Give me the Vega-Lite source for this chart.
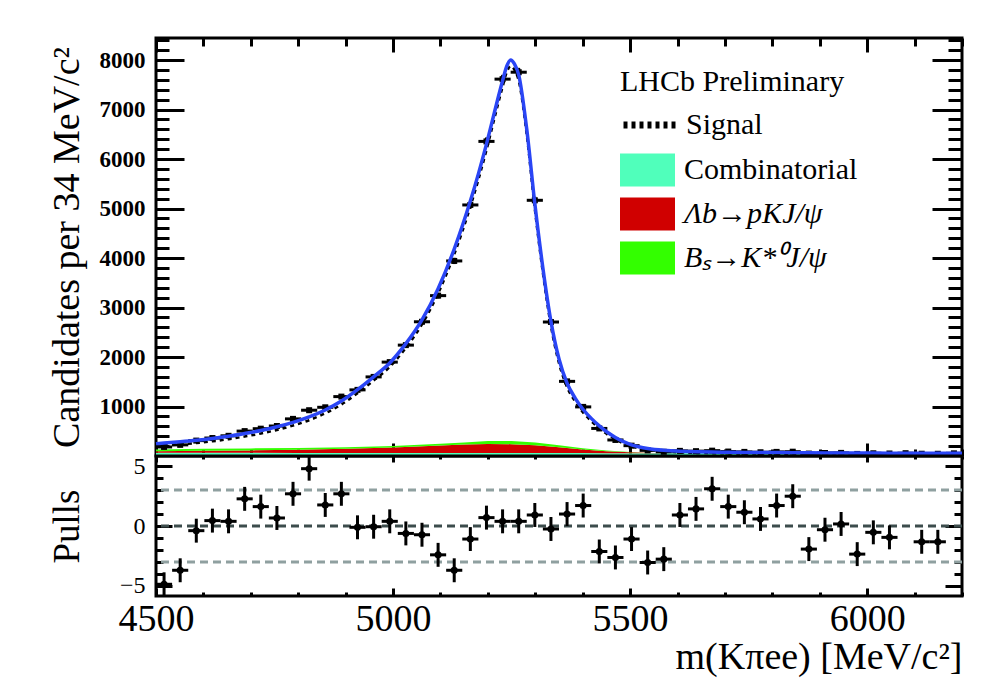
{
  "$schema": "https://vega.github.io/schema/vega-lite/v6.json",
  "background": "white",
  "padding": {"left": 46, "top": 35, "right": 30, "bottom": 10},
  "spacing": 0,
  "bounds": "flush",
  "config": {
    "view": {"stroke": "black", "strokeWidth": 3},
    "font": "Liberation Serif",
    "legend": {"symbolStrokeWidth": 7},
    "axis": {
      "domain": false,
      "grid": false,
      "labelFont": "Liberation Serif",
      "titleFont": "Liberation Serif",
      "titleFontWeight": "normal",
      "labelColor": "black",
      "titleColor": "black",
      "tickColor": "black",
      "tickWidth": 3,
      "labelFlush": false,
      "labelOverlap": false,
      "format": "d"
    }
  },
  "datasets": {
    "hist": [
      {"m": 4517, "lo": 4500, "hi": 4534, "n": 183, "nlo": 169.5, "nhi": 196.5},
      {"m": 4551, "lo": 4534, "hi": 4568, "n": 225, "nlo": 210, "nhi": 240},
      {"m": 4585, "lo": 4568, "hi": 4602, "n": 311, "nlo": 293, "nhi": 329},
      {"m": 4619, "lo": 4602, "hi": 4636, "n": 363, "nlo": 344, "nhi": 382},
      {"m": 4653, "lo": 4636, "hi": 4670, "n": 408, "nlo": 388, "nhi": 428},
      {"m": 4687, "lo": 4670, "hi": 4704, "n": 503, "nlo": 481, "nhi": 525},
      {"m": 4721, "lo": 4704, "hi": 4738, "n": 552, "nlo": 528, "nhi": 576},
      {"m": 4755, "lo": 4738, "hi": 4772, "n": 606, "nlo": 581, "nhi": 631},
      {"m": 4789, "lo": 4772, "hi": 4806, "n": 750, "nlo": 723, "nhi": 777},
      {"m": 4823, "lo": 4806, "hi": 4840, "n": 925, "nlo": 895, "nhi": 955},
      {"m": 4857, "lo": 4840, "hi": 4874, "n": 984, "nlo": 953, "nhi": 1015},
      {"m": 4891, "lo": 4874, "hi": 4908, "n": 1200, "nlo": 1165, "nhi": 1235},
      {"m": 4925, "lo": 4908, "hi": 4942, "n": 1336, "nlo": 1299, "nhi": 1373},
      {"m": 4959, "lo": 4942, "hi": 4976, "n": 1598, "nlo": 1558, "nhi": 1638},
      {"m": 4993, "lo": 4976, "hi": 5010, "n": 1897, "nlo": 1853, "nhi": 1941},
      {"m": 5027, "lo": 5010, "hi": 5044, "n": 2240, "nlo": 2193, "nhi": 2287},
      {"m": 5061, "lo": 5044, "hi": 5078, "n": 2712, "nlo": 2660, "nhi": 2764},
      {"m": 5095, "lo": 5078, "hi": 5112, "n": 3240, "nlo": 3183, "nhi": 3297},
      {"m": 5129, "lo": 5112, "hi": 5146, "n": 3941, "nlo": 3878, "nhi": 4004},
      {"m": 5163, "lo": 5146, "hi": 5180, "n": 5072, "nlo": 5001, "nhi": 5143},
      {"m": 5197, "lo": 5180, "hi": 5214, "n": 6356, "nlo": 6276, "nhi": 6436},
      {"m": 5231, "lo": 5214, "hi": 5248, "n": 7614, "nlo": 7527, "nhi": 7701},
      {"m": 5265, "lo": 5248, "hi": 5282, "n": 7754, "nlo": 7666, "nhi": 7842},
      {"m": 5299, "lo": 5282, "hi": 5316, "n": 5166, "nlo": 5094, "nhi": 5238},
      {"m": 5333, "lo": 5316, "hi": 5350, "n": 2707, "nlo": 2655, "nhi": 2759},
      {"m": 5367, "lo": 5350, "hi": 5384, "n": 1508, "nlo": 1469, "nhi": 1547},
      {"m": 5401, "lo": 5384, "hi": 5418, "n": 992, "nlo": 960, "nhi": 1024},
      {"m": 5435, "lo": 5418, "hi": 5452, "n": 557, "nlo": 533, "nhi": 581},
      {"m": 5469, "lo": 5452, "hi": 5486, "n": 324, "nlo": 306, "nhi": 342},
      {"m": 5503, "lo": 5486, "hi": 5520, "n": 209, "nlo": 194.5, "nhi": 223.5},
      {"m": 5537, "lo": 5520, "hi": 5554, "n": 114, "nlo": 103, "nhi": 125},
      {"m": 5571, "lo": 5554, "hi": 5588, "n": 85, "nlo": 76, "nhi": 94},
      {"m": 5605, "lo": 5588, "hi": 5622, "n": 104, "nlo": 94, "nhi": 114},
      {"m": 5639, "lo": 5622, "hi": 5656, "n": 98, "nlo": 88, "nhi": 108},
      {"m": 5673, "lo": 5656, "hi": 5690, "n": 108, "nlo": 98, "nhi": 118},
      {"m": 5707, "lo": 5690, "hi": 5724, "n": 90, "nlo": 80.5, "nhi": 99.5},
      {"m": 5741, "lo": 5724, "hi": 5758, "n": 83, "nlo": 74, "nhi": 92},
      {"m": 5775, "lo": 5758, "hi": 5792, "n": 76, "nlo": 67, "nhi": 85},
      {"m": 5809, "lo": 5792, "hi": 5826, "n": 83, "nlo": 74, "nhi": 92},
      {"m": 5843, "lo": 5826, "hi": 5860, "n": 87, "nlo": 78, "nhi": 96},
      {"m": 5877, "lo": 5860, "hi": 5894, "n": 49, "nlo": 42, "nhi": 56},
      {"m": 5911, "lo": 5894, "hi": 5928, "n": 61, "nlo": 53, "nhi": 69},
      {"m": 5945, "lo": 5928, "hi": 5962, "n": 63, "nlo": 55, "nhi": 71},
      {"m": 5979, "lo": 5962, "hi": 5996, "n": 42, "nlo": 35.5, "nhi": 48.5},
      {"m": 6013, "lo": 5996, "hi": 6030, "n": 55, "nlo": 47.6, "nhi": 62.4},
      {"m": 6047, "lo": 6030, "hi": 6064, "n": 51, "nlo": 44, "nhi": 58},
      {"m": 6081, "lo": 6064, "hi": 6098, "n": 57, "nlo": 49.5, "nhi": 64.5},
      {"m": 6115, "lo": 6098, "hi": 6132, "n": 46, "nlo": 39, "nhi": 53},
      {"m": 6149, "lo": 6132, "hi": 6166, "n": 45, "nlo": 38, "nhi": 52},
      {"m": 6183, "lo": 6166, "hi": 6200, "n": 54, "nlo": 47, "nhi": 61}
    ],
    "pulls": [
      {"m": 4517, "lo": 4500, "hi": 4534, "pull": -4.87, "plo": -5.87, "phi": -3.87},
      {"m": 4551, "lo": 4534, "hi": 4568, "pull": -3.7, "plo": -4.7, "phi": -2.7},
      {"m": 4585, "lo": 4568, "hi": 4602, "pull": -0.39, "plo": -1.39, "phi": 0.61},
      {"m": 4619, "lo": 4602, "hi": 4636, "pull": 0.45, "plo": -0.55, "phi": 1.45},
      {"m": 4653, "lo": 4636, "hi": 4670, "pull": 0.39, "plo": -0.61, "phi": 1.39},
      {"m": 4687, "lo": 4670, "hi": 4704, "pull": 2.27, "plo": 1.27, "phi": 3.27},
      {"m": 4721, "lo": 4704, "hi": 4738, "pull": 1.62, "plo": 0.62, "phi": 2.62},
      {"m": 4755, "lo": 4738, "hi": 4772, "pull": 0.67, "plo": -0.33, "phi": 1.67},
      {"m": 4789, "lo": 4772, "hi": 4806, "pull": 2.69, "plo": 1.69, "phi": 3.69},
      {"m": 4823, "lo": 4806, "hi": 4840, "pull": 4.79, "plo": 3.79, "phi": 5.79},
      {"m": 4857, "lo": 4840, "hi": 4874, "pull": 1.76, "plo": 0.76, "phi": 2.76},
      {"m": 4891, "lo": 4874, "hi": 4908, "pull": 2.69, "plo": 1.69, "phi": 3.69},
      {"m": 4925, "lo": 4908, "hi": 4942, "pull": -0.11, "plo": -1.11, "phi": 0.89},
      {"m": 4959, "lo": 4942, "hi": 4976, "pull": -0.06, "plo": -1.06, "phi": 0.94},
      {"m": 4993, "lo": 4976, "hi": 5010, "pull": 0.39, "plo": -0.61, "phi": 1.39},
      {"m": 5027, "lo": 5010, "hi": 5044, "pull": -0.62, "plo": -1.62, "phi": 0.38},
      {"m": 5061, "lo": 5044, "hi": 5078, "pull": -0.73, "plo": -1.73, "phi": 0.27},
      {"m": 5095, "lo": 5078, "hi": 5112, "pull": -2.41, "plo": -3.41, "phi": -1.41},
      {"m": 5129, "lo": 5112, "hi": 5146, "pull": -3.7, "plo": -4.7, "phi": -2.7},
      {"m": 5163, "lo": 5146, "hi": 5180, "pull": -1.09, "plo": -2.09, "phi": -0.09},
      {"m": 5197, "lo": 5180, "hi": 5214, "pull": 0.7, "plo": -0.3, "phi": 1.7},
      {"m": 5231, "lo": 5214, "hi": 5248, "pull": 0.39, "plo": -0.61, "phi": 1.39},
      {"m": 5265, "lo": 5248, "hi": 5282, "pull": 0.39, "plo": -0.61, "phi": 1.39},
      {"m": 5299, "lo": 5282, "hi": 5316, "pull": 0.92, "plo": -0.08, "phi": 1.92},
      {"m": 5333, "lo": 5316, "hi": 5350, "pull": -0.25, "plo": -1.25, "phi": 0.75},
      {"m": 5367, "lo": 5350, "hi": 5384, "pull": 1.0, "plo": 0.0, "phi": 2.0},
      {"m": 5401, "lo": 5384, "hi": 5418, "pull": 1.71, "plo": 0.71, "phi": 2.71},
      {"m": 5435, "lo": 5418, "hi": 5452, "pull": -2.13, "plo": -3.13, "phi": -1.13},
      {"m": 5469, "lo": 5452, "hi": 5486, "pull": -2.63, "plo": -3.63, "phi": -1.63},
      {"m": 5503, "lo": 5486, "hi": 5520, "pull": -1.09, "plo": -2.09, "phi": -0.09},
      {"m": 5537, "lo": 5520, "hi": 5554, "pull": -3.05, "plo": -4.05, "phi": -2.05},
      {"m": 5571, "lo": 5554, "hi": 5588, "pull": -2.77, "plo": -3.77, "phi": -1.77},
      {"m": 5605, "lo": 5588, "hi": 5622, "pull": 0.92, "plo": -0.08, "phi": 1.92},
      {"m": 5639, "lo": 5622, "hi": 5656, "pull": 1.43, "plo": 0.43, "phi": 2.43},
      {"m": 5673, "lo": 5656, "hi": 5690, "pull": 3.11, "plo": 2.11, "phi": 4.11},
      {"m": 5707, "lo": 5690, "hi": 5724, "pull": 1.62, "plo": 0.62, "phi": 2.62},
      {"m": 5741, "lo": 5724, "hi": 5758, "pull": 1.15, "plo": 0.15, "phi": 2.15},
      {"m": 5775, "lo": 5758, "hi": 5792, "pull": 0.59, "plo": -0.41, "phi": 1.59},
      {"m": 5809, "lo": 5792, "hi": 5826, "pull": 1.71, "plo": 0.71, "phi": 2.71},
      {"m": 5843, "lo": 5826, "hi": 5860, "pull": 2.49, "plo": 1.49, "phi": 3.49},
      {"m": 5877, "lo": 5860, "hi": 5894, "pull": -1.93, "plo": -2.93, "phi": -0.93},
      {"m": 5911, "lo": 5894, "hi": 5928, "pull": -0.31, "plo": -1.31, "phi": 0.69},
      {"m": 5945, "lo": 5928, "hi": 5962, "pull": 0.17, "plo": -0.83, "phi": 1.17},
      {"m": 5979, "lo": 5962, "hi": 5996, "pull": -2.35, "plo": -3.35, "phi": -1.35},
      {"m": 6013, "lo": 5996, "hi": 6030, "pull": -0.53, "plo": -1.53, "phi": 0.47},
      {"m": 6047, "lo": 6030, "hi": 6064, "pull": -0.95, "plo": -1.95, "phi": 0.05},
      {"m": 6115, "lo": 6098, "hi": 6132, "pull": -1.32, "plo": -2.32, "phi": -0.32},
      {"m": 6149, "lo": 6132, "hi": 6166, "pull": -1.32, "plo": -2.32, "phi": -0.32}
    ],
    "fit": [
      {"m": 4500, "total": 250, "signal": 198}, {"m": 4517, "total": 262, "signal": 209},
      {"m": 4551, "total": 288, "signal": 233}, {"m": 4585, "total": 318, "signal": 261},
      {"m": 4619, "total": 355, "signal": 297}, {"m": 4653, "total": 400, "signal": 340},
      {"m": 4687, "total": 455, "signal": 394}, {"m": 4721, "total": 515, "signal": 453},
      {"m": 4755, "total": 590, "signal": 527}, {"m": 4789, "total": 680, "signal": 615},
      {"m": 4823, "total": 790, "signal": 723}, {"m": 4857, "total": 930, "signal": 862},
      {"m": 4891, "total": 1110, "signal": 1040}, {"m": 4925, "total": 1340, "signal": 1267},
      {"m": 4959, "total": 1600, "signal": 1524}, {"m": 4993, "total": 1880, "signal": 1800},
      {"m": 5027, "total": 2270, "signal": 2185}, {"m": 5061, "total": 2750, "signal": 2659},
      {"m": 5095, "total": 3380, "signal": 3283}, {"m": 5129, "total": 4180, "signal": 4074},
      {"m": 5163, "total": 5150, "signal": 5036}, {"m": 5180, "total": 5700, "signal": 5582},
      {"m": 5197, "total": 6300, "signal": 6179}, {"m": 5214, "total": 6950, "signal": 6828},
      {"m": 5231, "total": 7580, "signal": 7458}, {"m": 5240, "total": 7880, "signal": 7758},
      {"m": 5248, "total": 8000, "signal": 7878}, {"m": 5256, "total": 7920, "signal": 7800},
      {"m": 5265, "total": 7700, "signal": 7581}, {"m": 5282, "total": 6600, "signal": 6486},
      {"m": 5299, "total": 5100, "signal": 4990}, {"m": 5316, "total": 3800, "signal": 3698},
      {"m": 5333, "total": 2720, "signal": 2625}, {"m": 5350, "total": 1960, "signal": 1873},
      {"m": 5367, "total": 1470, "signal": 1391}, {"m": 5384, "total": 1170, "signal": 1100},
      {"m": 5401, "total": 940, "signal": 877}, {"m": 5418, "total": 760, "signal": 704},
      {"m": 5435, "total": 610, "signal": 560}, {"m": 5452, "total": 480, "signal": 436},
      {"m": 5469, "total": 375, "signal": 336}, {"m": 5486, "total": 290, "signal": 255},
      {"m": 5503, "total": 225, "signal": 193}, {"m": 5520, "total": 182, "signal": 153},
      {"m": 5537, "total": 152, "signal": 125}, {"m": 5571, "total": 115, "signal": 91},
      {"m": 5605, "total": 95, "signal": 72}, {"m": 5639, "total": 85, "signal": 62},
      {"m": 5673, "total": 80, "signal": 58}, {"m": 5707, "total": 76, "signal": 54},
      {"m": 5775, "total": 71, "signal": 49}, {"m": 5843, "total": 67, "signal": 45},
      {"m": 5911, "total": 63, "signal": 41}, {"m": 5979, "total": 60, "signal": 39},
      {"m": 6047, "total": 58, "signal": 37}, {"m": 6115, "total": 56, "signal": 35},
      {"m": 6200, "total": 54, "signal": 33}
    ],
    "bkg": [
      {"m": 4500, "comp": "Combinatorial", "k": 1, "n": 65}, {"m": 4600, "comp": "Combinatorial", "k": 1, "n": 64},
      {"m": 4700, "comp": "Combinatorial", "k": 1, "n": 63.5}, {"m": 4800, "comp": "Combinatorial", "k": 1, "n": 62.7},
      {"m": 4900, "comp": "Combinatorial", "k": 1, "n": 61.9}, {"m": 5000, "comp": "Combinatorial", "k": 1, "n": 61.2},
      {"m": 5100, "comp": "Combinatorial", "k": 1, "n": 60.4}, {"m": 5150, "comp": "Combinatorial", "k": 1, "n": 60},
      {"m": 5200, "comp": "Combinatorial", "k": 1, "n": 59.6}, {"m": 5250, "comp": "Combinatorial", "k": 1, "n": 59.3},
      {"m": 5300, "comp": "Combinatorial", "k": 1, "n": 58.9}, {"m": 5350, "comp": "Combinatorial", "k": 1, "n": 58.5},
      {"m": 5400, "comp": "Combinatorial", "k": 1, "n": 58.1}, {"m": 5450, "comp": "Combinatorial", "k": 1, "n": 57.7},
      {"m": 5500, "comp": "Combinatorial", "k": 1, "n": 57.4}, {"m": 5550, "comp": "Combinatorial", "k": 1, "n": 57},
      {"m": 5600, "comp": "Combinatorial", "k": 1, "n": 56.6}, {"m": 5700, "comp": "Combinatorial", "k": 1, "n": 55.8},
      {"m": 5800, "comp": "Combinatorial", "k": 1, "n": 55.1}, {"m": 6000, "comp": "Combinatorial", "k": 1, "n": 53.5},
      {"m": 6200, "comp": "Combinatorial", "k": 1, "n": 52},
      {"m": 4500, "comp": "Λb→pKJ/ψ", "k": 2, "n": 30}, {"m": 4600, "comp": "Λb→pKJ/ψ", "k": 2, "n": 40},
      {"m": 4700, "comp": "Λb→pKJ/ψ", "k": 2, "n": 50}, {"m": 4800, "comp": "Λb→pKJ/ψ", "k": 2, "n": 65},
      {"m": 4900, "comp": "Λb→pKJ/ψ", "k": 2, "n": 85}, {"m": 5000, "comp": "Λb→pKJ/ψ", "k": 2, "n": 110},
      {"m": 5100, "comp": "Λb→pKJ/ψ", "k": 2, "n": 150}, {"m": 5150, "comp": "Λb→pKJ/ψ", "k": 2, "n": 170},
      {"m": 5200, "comp": "Λb→pKJ/ψ", "k": 2, "n": 185}, {"m": 5250, "comp": "Λb→pKJ/ψ", "k": 2, "n": 180},
      {"m": 5300, "comp": "Λb→pKJ/ψ", "k": 2, "n": 160}, {"m": 5350, "comp": "Λb→pKJ/ψ", "k": 2, "n": 120},
      {"m": 5400, "comp": "Λb→pKJ/ψ", "k": 2, "n": 75}, {"m": 5450, "comp": "Λb→pKJ/ψ", "k": 2, "n": 40},
      {"m": 5500, "comp": "Λb→pKJ/ψ", "k": 2, "n": 18}, {"m": 5550, "comp": "Λb→pKJ/ψ", "k": 2, "n": 6},
      {"m": 5600, "comp": "Λb→pKJ/ψ", "k": 2, "n": 0}, {"m": 5700, "comp": "Λb→pKJ/ψ", "k": 2, "n": 0},
      {"m": 5800, "comp": "Λb→pKJ/ψ", "k": 2, "n": 0}, {"m": 6000, "comp": "Λb→pKJ/ψ", "k": 2, "n": 0},
      {"m": 6200, "comp": "Λb→pKJ/ψ", "k": 2, "n": 0},
      {"m": 4500, "comp": "Bₛ→K*⁰J/ψ", "k": 3, "n": 35}, {"m": 4600, "comp": "Bₛ→K*⁰J/ψ", "k": 3, "n": 40},
      {"m": 4700, "comp": "Bₛ→K*⁰J/ψ", "k": 3, "n": 40}, {"m": 4800, "comp": "Bₛ→K*⁰J/ψ", "k": 3, "n": 35},
      {"m": 4900, "comp": "Bₛ→K*⁰J/ψ", "k": 3, "n": 30}, {"m": 5000, "comp": "Bₛ→K*⁰J/ψ", "k": 3, "n": 30},
      {"m": 5100, "comp": "Bₛ→K*⁰J/ψ", "k": 3, "n": 35}, {"m": 5150, "comp": "Bₛ→K*⁰J/ψ", "k": 3, "n": 45},
      {"m": 5200, "comp": "Bₛ→K*⁰J/ψ", "k": 3, "n": 60}, {"m": 5250, "comp": "Bₛ→K*⁰J/ψ", "k": 3, "n": 65},
      {"m": 5300, "comp": "Bₛ→K*⁰J/ψ", "k": 3, "n": 55}, {"m": 5350, "comp": "Bₛ→K*⁰J/ψ", "k": 3, "n": 40},
      {"m": 5400, "comp": "Bₛ→K*⁰J/ψ", "k": 3, "n": 25}, {"m": 5450, "comp": "Bₛ→K*⁰J/ψ", "k": 3, "n": 12},
      {"m": 5500, "comp": "Bₛ→K*⁰J/ψ", "k": 3, "n": 5}, {"m": 5550, "comp": "Bₛ→K*⁰J/ψ", "k": 3, "n": 0},
      {"m": 5600, "comp": "Bₛ→K*⁰J/ψ", "k": 3, "n": 0}, {"m": 5700, "comp": "Bₛ→K*⁰J/ψ", "k": 3, "n": 0},
      {"m": 5800, "comp": "Bₛ→K*⁰J/ψ", "k": 3, "n": 0}, {"m": 6000, "comp": "Bₛ→K*⁰J/ψ", "k": 3, "n": 0},
      {"m": 6200, "comp": "Bₛ→K*⁰J/ψ", "k": 3, "n": 0}
    ],
    "sigmaLines": [{"s": 3}, {"s": -3}],
    "zeroLine": [{"s": 0}]
  },
  "vconcat": [
    {
      "width": 806,
      "height": 418,
      "resolve": {"axis": {"x": "independent", "y": "independent"}},
      "layer": [
        {
          "data": {"name": "bkg"},
          "mark": {"type": "area", "opacity": 1},
          "encoding": {
            "x": {
              "field": "m", "type": "quantitative",
              "scale": {"domain": [4500, 6200], "nice": false, "zero": false},
              "axis": {
                "orient": "bottom", "labels": false, "title": null,
                "values": [4500, 4600, 4700, 4800, 4900, 5000, 5100, 5200, 5300, 5400, 5500, 5600, 5700, 5800, 5900, 6000, 6100, 6200],
                "tickSize": {"condition": {"test": "datum.value % 500 === 0", "value": -13}, "value": -7}
              }
            },
            "y": {
              "field": "n", "type": "quantitative", "stack": "zero",
              "scale": {"domain": [0, 8445], "nice": false, "zero": false},
              "axis": {
                "orient": "left", "ticks": false,
                "values": [1000, 2000, 3000, 4000, 5000, 6000, 7000, 8000],
                "labelFontSize": 23, "labelFontWeight": "bold", "labelPadding": 11,
                "minExtent": 59, "maxExtent": 59,
                "title": "Candidates per 34 MeV/c²", "titleFontSize": 38, "titlePadding": 11
              }
            },
            "color": {
              "field": "comp", "type": "nominal",
              "scale": {
                "domain": ["Combinatorial", "Λb→pKJ/ψ", "Bₛ→K*⁰J/ψ"],
                "range": ["#50ffbb", "#d00000", "#33ff00"]
              },
              "legend": {
                "title": null,
                "orient": "none", "legendX": 464, "legendY": 110, "padding": 0,
                "labelFont": "Liberation Serif", "labelFontSize": 30, "labelColor": "black",
                "labelFontStyle": {"expr": "datum.value === 'Combinatorial' ? 'normal' : 'italic'"},
                "labelOffset": 9, "labelLimit": 400,
                "symbolType": "M-1,-0.6H1V0.6H-1Z",
                "symbolSize": 3025, "symbolStrokeWidth": 0, "symbolOpacity": 1,
                "clipHeight": 44, "rowPadding": 0
              }
            },
            "order": {"field": "k", "type": "quantitative"}
          }
        },
        {
          "data": {"name": "hist"},
          "mark": {"type": "rule", "color": "black", "strokeWidth": 3},
          "encoding": {
            "x": {"field": "m", "type": "quantitative", "scale": {"domain": [4500, 6200], "nice": false, "zero": false}, "axis": null},
            "y": {"field": "nlo", "type": "quantitative", "scale": {"domain": [0, 8445], "nice": false, "zero": false}, "axis": null},
            "y2": {"field": "nhi"}
          }
        },
        {
          "data": {"name": "hist"},
          "mark": {"type": "rule", "color": "black", "strokeWidth": 3},
          "encoding": {
            "x": {"field": "lo", "type": "quantitative", "scale": {"domain": [4500, 6200], "nice": false, "zero": false}, "axis": null},
            "x2": {"field": "hi"},
            "y": {"field": "n", "type": "quantitative", "scale": {"domain": [0, 8445], "nice": false, "zero": false}, "axis": null}
          }
        },
        {
          "data": {"name": "hist"},
          "mark": {"type": "point", "shape": "square", "filled": true, "size": 36, "color": "black", "opacity": 1},
          "encoding": {
            "x": {"field": "m", "type": "quantitative", "scale": {"domain": [4500, 6200], "nice": false, "zero": false}, "axis": null},
            "y": {"field": "n", "type": "quantitative", "scale": {"domain": [0, 8445], "nice": false, "zero": false}, "axis": null}
          }
        },
        {
          "data": {"name": "fit"},
          "mark": {"type": "line", "color": "black", "strokeWidth": 2.5, "interpolate": "monotone"},
          "encoding": {
            "x": {
              "field": "m", "type": "quantitative",
              "scale": {"domain": [4500, 6200], "nice": false, "zero": false},
              "axis": {
                "orient": "top", "labels": false, "title": null,
                "values": [4500, 4600, 4700, 4800, 4900, 5000, 5100, 5200, 5300, 5400, 5500, 5600, 5700, 5800, 5900, 6000, 6100, 6200],
                "tickSize": {"condition": {"test": "datum.value % 500 === 0", "value": -14}, "value": -8}
              }
            },
            "y": {
              "field": "signal", "type": "quantitative",
              "scale": {"domain": [0, 8445], "nice": false, "zero": false},
              "axis": {
                "orient": "left", "labels": false, "title": null,
                "values": [200, 400, 600, 800, 1000, 1200, 1400, 1600, 1800, 2000, 2200, 2400, 2600, 2800, 3000, 3200, 3400, 3600, 3800, 4000, 4200, 4400, 4600, 4800, 5000, 5200, 5400, 5600, 5800, 6000, 6200, 6400, 6600, 6800, 7000, 7200, 7400, 7600, 7800, 8000, 8200, 8400],
                "tickSize": {"condition": {"test": "datum.value % 1000 === 0", "value": -28}, "value": -13}
              }
            },
            "strokeDash": {
              "datum": "Signal", "type": "nominal",
              "scale": {"domain": ["Signal"], "range": [[4, 4]]},
              "legend": {
                "title": "LHCb Preliminary",
                "orient": "none", "legendX": 464, "legendY": 29, "padding": 0,
                "titleFont": "Liberation Serif", "titleFontSize": 30, "titleFontWeight": "normal",
                "titleColor": "black", "titlePadding": 6, "titleLimit": 400,
                "labelFont": "Liberation Serif", "labelFontSize": 30, "labelColor": "black",
                "labelOffset": 7, "labelLimit": 400,
                "symbolType": "stroke", "symbolSize": 2704, "symbolStrokeWidth": 7,
                "symbolStrokeColor": "black", "symbolDash": [7, 4], "symbolOpacity": 1,
                "clipHeight": 44, "rowPadding": 0
              }
            }
          }
        },
        {
          "data": {"name": "fit"},
          "mark": {"type": "line", "strokeWidth": 3.5, "color": "#2a45f5", "interpolate": "monotone"},
          "encoding": {
            "x": {"field": "m", "type": "quantitative", "scale": {"domain": [4500, 6200], "nice": false, "zero": false}, "axis": null},
            "y": {
              "field": "total", "type": "quantitative",
              "scale": {"domain": [0, 8445], "nice": false, "zero": false},
              "axis": {
                "orient": "right", "labels": false, "title": null,
                "values": [200, 400, 600, 800, 1000, 1200, 1400, 1600, 1800, 2000, 2200, 2400, 2600, 2800, 3000, 3200, 3400, 3600, 3800, 4000, 4200, 4400, 4600, 4800, 5000, 5200, 5400, 5600, 5800, 6000, 6200, 6400, 6600, 6800, 7000, 7200, 7400, 7600, 7800, 8000, 8200, 8400],
                "tickSize": {"condition": {"test": "datum.value % 1000 === 0", "value": -30}, "value": -14}
              }
            }
          }
        }
      ]
    },
    {
      "width": 806,
      "height": 140,
      "resolve": {"axis": {"x": "independent", "y": "independent"}},
      "layer": [
        {
          "data": {"name": "sigmaLines"},
          "mark": {"type": "rule", "color": "#8fa0a0", "strokeWidth": 3, "strokeDash": [8, 5]},
          "encoding": {
            "y": {
              "field": "s", "type": "quantitative",
              "scale": {"domain": [-5.85, 5.85], "nice": false, "zero": false},
              "axis": {
                "orient": "left", "ticks": false, "values": [-5, 0, 5],
                "labelFontSize": 24, "labelPadding": 11,
                "minExtent": 59, "maxExtent": 59,
                "title": "Pulls", "titleFontSize": 37, "titlePadding": 11
              }
            }
          }
        },
        {
          "data": {"name": "zeroLine"},
          "mark": {"type": "rule", "color": "#3c4c4c", "strokeWidth": 3, "strokeDash": [8, 5]},
          "encoding": {
            "y": {
              "field": "s", "type": "quantitative",
              "scale": {"domain": [-5.85, 5.85], "nice": false, "zero": false},
              "axis": {
                "orient": "left", "labels": false, "title": null,
                "values": [-5, -4, -3, -2, -1, 0, 1, 2, 3, 4, 5],
                "tickSize": {"condition": {"test": "datum.value % 5 === 0", "value": -16}, "value": -7}
              }
            }
          }
        },
        {
          "data": {"name": "pulls"},
          "mark": {"type": "rule", "color": "black", "strokeWidth": 3},
          "encoding": {
            "x": {
              "field": "m", "type": "quantitative",
              "scale": {"domain": [4500, 6200], "nice": false, "zero": false},
              "axis": {
                "orient": "bottom", "ticks": false, "values": [4500, 5000, 5500, 6000],
                "labelFontSize": 38, "labelPadding": 4, "minExtent": 40, "maxExtent": 40,
                "title": "m(Kπee) [MeV/c²]", "titleFontSize": 38, "titleAnchor": "end", "titlePadding": 2
              }
            },
            "y": {
              "field": "plo", "type": "quantitative",
              "scale": {"domain": [-5.85, 5.85], "nice": false, "zero": false},
              "axis": {
                "orient": "right", "labels": false, "title": null,
                "values": [-5, -4, -3, -2, -1, 0, 1, 2, 3, 4, 5],
                "tickSize": {"condition": {"test": "datum.value % 5 === 0", "value": -17}, "value": -8}
              }
            },
            "y2": {"field": "phi"}
          }
        },
        {
          "data": {"name": "pulls"},
          "mark": {"type": "rule", "color": "black", "strokeWidth": 3},
          "encoding": {
            "x": {
              "field": "lo", "type": "quantitative",
              "scale": {"domain": [4500, 6200], "nice": false, "zero": false},
              "axis": {
                "orient": "bottom", "labels": false, "title": null,
                "values": [4500, 4600, 4700, 4800, 4900, 5000, 5100, 5200, 5300, 5400, 5500, 5600, 5700, 5800, 5900, 6000, 6100, 6200],
                "tickSize": {"condition": {"test": "datum.value % 500 === 0", "value": -8}, "value": -4}
              }
            },
            "x2": {"field": "hi"},
            "y": {"field": "pull", "type": "quantitative", "scale": {"domain": [-5.85, 5.85], "nice": false, "zero": false}, "axis": null}
          }
        },
        {
          "data": {"name": "pulls"},
          "mark": {"type": "circle", "size": 50, "color": "black", "opacity": 1},
          "encoding": {
            "x": {
              "field": "m", "type": "quantitative",
              "scale": {"domain": [4500, 6200], "nice": false, "zero": false},
              "axis": {
                "orient": "top", "labels": false, "title": null,
                "values": [4500, 4600, 4700, 4800, 4900, 5000, 5100, 5200, 5300, 5400, 5500, 5600, 5700, 5800, 5900, 6000, 6100, 6200],
                "tickSize": {"condition": {"test": "datum.value % 500 === 0", "value": -6}, "value": -3}
              }
            },
            "y": {"field": "pull", "type": "quantitative", "scale": {"domain": [-5.85, 5.85], "nice": false, "zero": false}, "axis": null}
          }
        }
      ]
    }
  ]
}
